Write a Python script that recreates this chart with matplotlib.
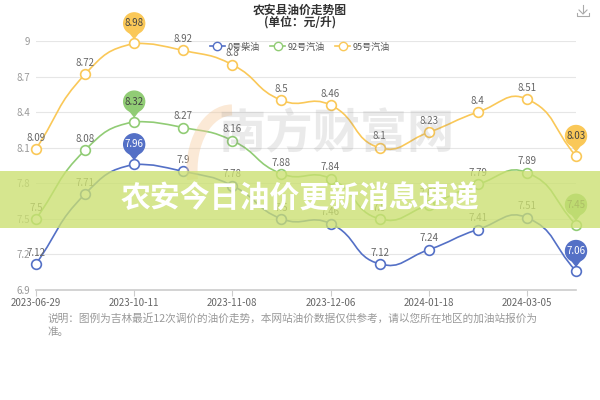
import numpy as np
import matplotlib
matplotlib.use('Agg')
from matplotlib import pyplot as plt
from matplotlib.path import Path
from matplotlib.patches import PathPatch, Ellipse, Polygon, Rectangle, Arc
from matplotlib.lines import Line2D

plt.rcParams['font.family'] = ['Noto Sans CJK SC', 'DejaVu Sans']

# data
series_names = ['0号柴油', '92号汽油', '95号汽油']
diesel = [7.12, 7.71, 7.96, 7.9, 7.78, 7.5, 7.46, 7.12, 7.24, 7.41, 7.51, 7.06]
gas92 = [7.5, 8.08, 8.32, 8.27, 8.16, 7.88, 7.84, 7.5, 7.62, 7.79, 7.89, 7.45]
gas95 = [8.09, 8.72, 8.98, 8.92, 8.8, 8.5, 8.46, 8.1, 8.23, 8.4, 8.51, 8.03]
tick_pos = [0, 2, 4, 6, 8, 10]
tick_labels = ['2023-06-29', '2023-10-11', '2023-11-08', '2023-12-06', '2024-01-18', '2024-03-05']
y_ticks = [6.9, 7.2, 7.5, 7.8, 8.1, 8.4, 8.7, 9.0]
y_tick_labels = ['6.9', '7.2', '7.5', '7.8', '8.1', '8.4', '8.7', '9']
colors = ['#5470c6', '#91cc75', '#fac858']
pin_text = ['white', '#444444', '#444444']

W, H = 600, 400
fig = plt.figure(figsize=(6, 4), dpi=100)
ax = fig.add_axes([36 / W, 1 - 290 / H, 540 / W, 249 / H])
ax.set_xlim(0, 11)
ax.set_ylim(6.9, 9.0)
# pixels per unit
sx = 540 / 11
sy = 249 / 2.1


def smooth_path(xs, ys, s=0.5):
    p = np.column_stack([np.array(xs) * sx, np.array(ys) * sy])
    lo, hi = p[:, 1].min(), p[:, 1].max()
    n = len(p)
    cps = []
    for i in range(n):
        prev = p[max(i - 1, 0)]
        nxt = p[min(i + 1, n - 1)]
        vec = nxt - prev
        d0 = np.hypot(*(p[i] - prev))
        d1 = np.hypot(*(p[i] - nxt))
        tot = d0 + d1
        if tot > 0:
            d0, d1 = d0 / tot, d1 / tot
        c0 = p[i] - vec * s * d0
        c1 = p[i] + vec * s * d1
        c0[1] = np.clip(c0[1], lo, hi)
        c1[1] = np.clip(c1[1], lo, hi)
        cps.append((c0, c1))
    verts = [p[0]]
    codes = [Path.MOVETO]
    for i in range(n - 1):
        verts += [cps[i][1], cps[i + 1][0], p[i + 1]]
        codes += [Path.CURVE4] * 3
    verts = np.array(verts) / [sx, sy]
    return Path(verts, codes)


for y in y_ticks:
    ax.axhline(y, color='#e6e6e6', lw=0.8, zorder=0)
for sp in ['top', 'right', 'left']:
    ax.spines[sp].set_visible(False)
ax.spines['bottom'].set_color('#cccccc')
ax.spines['bottom'].set_linewidth(1.2)
ax.set_xticks(tick_pos)
ax.set_xticklabels(tick_labels)
ax.set_yticks(y_ticks)
ax.set_yticklabels(y_tick_labels)
ax.tick_params(axis='x', colors='#cccccc', labelcolor='#666666', labelsize=7, length=4, pad=2)
ax.tick_params(axis='y', length=0, labelcolor='#999999', labelsize=7, pad=4)

# watermark
fig.text(0.56, 0.665, '南方财富网', fontsize=34, color='#888888', alpha=0.17,
         ha='center', va='center', fontweight='bold', zorder=1)
fig.patches.append(Arc((232 / W, 1 - 170 / H), 80 / W, 120 / H, theta1=90, theta2=200,
                       transform=fig.transFigure, color='#f5c89a', lw=8, alpha=0.4, zorder=1))

for k, vals in enumerate([diesel, gas92, gas95]):
    xs = np.arange(len(vals))
    ax.add_patch(PathPatch(smooth_path(xs, vals), fill=False, edgecolor=colors[k], lw=1.2, zorder=3))
    ax.plot(xs, vals, 'o', ms=7, mfc='white', mec=colors[k], mew=1.2, zorder=4, clip_on=False)
    imax = int(np.argmax(vals))
    imin = int(np.argmin(vals))
    for i, v in enumerate(vals):
        if i in (imax, imin):
            continue
        ax.annotate(f'{v:g}', (i, v), xytext=(0, 4.5), textcoords='offset points',
                    ha='center', va='bottom', fontsize=7, color='#666666', zorder=5)
    for i in (imax, imin):
        v = vals[i]
        cy = v + 20 / sy
        tip = v + 5 / sy
        r = 10.5
        ax.add_patch(Polygon([[i - 7 / sx, cy - 6 / sy], [i + 7 / sx, cy - 6 / sy], [i, tip]],
                             closed=True, color=colors[k], zorder=6, clip_on=False))
        ax.add_patch(Ellipse((i, cy), 2 * r / sx, 2 * r / sy, color=colors[k], zorder=6, clip_on=False))
        ax.text(i, cy, f'{v:g}', ha='center', va='center', fontsize=7, color=pin_text[k], zorder=7)

# legend
handles = [Line2D([0], [0], color=c, lw=1.2, marker='o', ms=6, mfc='white', mec=c) for c in colors]
fig.legend(handles, series_names, loc='center', bbox_to_anchor=(300 / W, 1 - 47 / H), ncol=3,
           frameon=False, fontsize=6.5, handlelength=1.6, handletextpad=0.3, columnspacing=1.2,
           labelcolor='#555555')

# title
fig.text(0.5, 1 - 10 / H, '农安县油价走势图', ha='center', va='center', fontsize=8.5,
         fontweight='bold', color='#333333')
fig.text(0.5, 1 - 22 / H, '(单位：元/升)', ha='center', va='center', fontsize=8.5,
         fontweight='bold', color='#333333')

# download icon
fig.add_artist(Line2D([583 / W, 583 / W], [1 - 5 / H, 1 - 13 / H], color='#aaaaaa', lw=0.8))
fig.add_artist(Line2D([579 / W, 583 / W, 587 / W], [1 - 10 / H, 1 - 14 / H, 1 - 10 / H], color='#aaaaaa', lw=0.8))
fig.add_artist(Line2D([577 / W, 577 / W, 589 / W, 589 / W], [1 - 13 / H, 1 - 16 / H, 1 - 16 / H, 1 - 13 / H],
                      color='#aaaaaa', lw=0.8))

# note
fig.text(47 / W, 1 - 318 / H, '说明：图例为吉林最近12次调价的油价走势，本网站油价数据仅供参考，请以您所在地区的加油站报价为',
         ha='left', va='center', fontsize=7.7, color='#999999')
fig.text(47 / W, 1 - 332 / H, '准。', ha='left', va='center', fontsize=7.7, color='#999999')

# overlay band
fig.patches.append(Rectangle((0, 1 - 228 / H), 1, 57 / H, transform=fig.transFigure,
                             facecolor='#cbe070', alpha=0.78, zorder=10))
fig.text(0.5, 1 - 199 / H, '农安今日油价更新消息速递', ha='center', va='center', fontsize=21.5,
         fontweight='bold', color='white', zorder=11)

fig.savefig('out.png', dpi=100)
